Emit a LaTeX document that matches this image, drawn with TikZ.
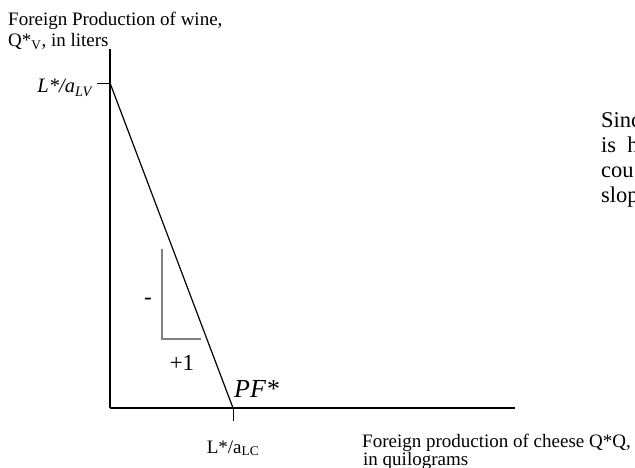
\documentclass[tikz,border=0pt]{standalone}
\usepackage{fontspec}
\setmainfont{Liberation Serif}
\usetikzlibrary{calc}

\begin{document}
\begin{tikzpicture}[x=1pt,y=-1pt,
    lbl/.style={inner sep=0pt, anchor=base west, font=\fontsize{19}{22}\selectfont},
    side/.style={inner sep=0pt, anchor=base west, font=\fontsize{22.5}{25}\selectfont}]
    \useasboundingbox (0,0) rectangle (635,468);

    \coordinate (O) at (110,408);
    \coordinate (T) at (110,49);
    \coordinate (E) at (515,408);

    \coordinate (LV) at (110,83);
    \coordinate (LC) at (233,408);
    \coordinate (LV') at (97,83);
    \coordinate (LC') at (233,421);

    \coordinate (S1) at (162,249);
    \coordinate (S2) at (162,339);
    \coordinate (S3) at (201,339);

    \draw[black, line width=1.5] (T) to (O);
    \draw[black, line width=1.5] (O) to (E);
    \draw[black, line width=1.2] (LV) to (LC);
    \draw[black] (LV') to (LV);
    \draw[black] (LC) to (LC');
    \draw[gray, line width=2.5] (S1) to (S2) to (S3);

    \node[lbl] (ytitle) at (8,26) {Foreign Production of wine,};
    \node[lbl] (yunit) at (8,47) {Q*\textsubscript{V}, in liters};
    \node[lbl, anchor=base east, font=\fontsize{20.5}{24}\selectfont] (lv) at (92,93) {\textit{L*/a\textsubscript{LV}}};
    \node[lbl, anchor=base] (lc) at (233,453) {L*/a\textsubscript{LC}};
    \node[lbl] (xtitle) at (362,447) {Foreign production of cheese Q*Q,};
    \node[lbl] (xunit) at (363,465) {in quilograms};

    \node[inner sep=0pt, anchor=base west, font=\fontsize{26}{30}\selectfont\itshape] (pf) at (234,397) {PF*};
    \node[inner sep=0pt, font=\fontsize{23}{26}\selectfont] (rise) at (148,301) {-};
    \node[inner sep=0pt, anchor=base, font=\fontsize{23}{26}\selectfont] (run) at (182,370) {+1};

    \node[side] (t1) at (601,128) {Since};
    \node[side] (t2) at (601,153) {is\ \ h};
    \node[side] (t3) at (601,178) {cou};
    \node[side] (t4) at (601,203) {slop};
\end{tikzpicture}
\end{document}
